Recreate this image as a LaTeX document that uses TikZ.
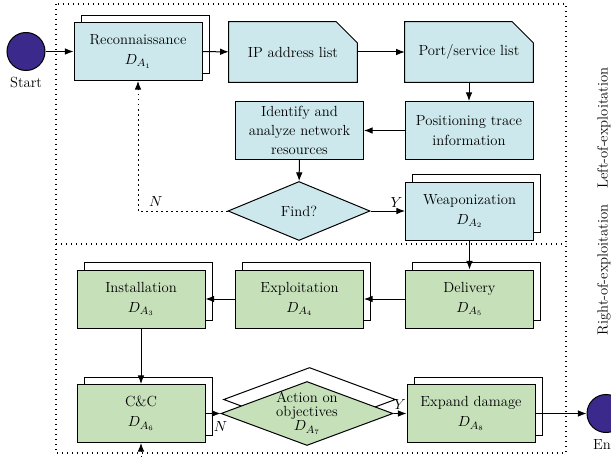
\documentclass[tikz,border=0pt]{standalone}
\usepackage{amsmath}
\usepackage{tikz}
\usetikzlibrary{arrows.meta,positioning,shapes.geometric,shadows,backgrounds}

\definecolor{reconblue}{HTML}{CCE8EC}
\definecolor{attackgreen}{HTML}{C6E0BA}
\definecolor{termpurple}{HTML}{3B2A8C}

\begin{document}
\begin{tikzpicture}[
    x=0.75pt, y=-0.75pt,
    font=\fontsize{11}{15}\selectfont,
    phase/.style={draw,align=center,line width=0.75pt,
        minimum width=96pt,minimum height=43.5pt,inner sep=2pt},
    leftbox/.style={phase,fill=reconblue},
    rightbox/.style={phase,fill=attackgreen},
    stacked/.style={copy shadow={shadow xshift=5.5pt,shadow yshift=5.6pt,
        fill=white,draw=black,line width=0.75pt}},
    listbox/.style={align=center,minimum width=96pt,minimum height=45pt},
    decision/.style={diamond,draw,line width=0.75pt,inner sep=0pt},
    terminal/.style={circle,draw,fill=termpurple,line width=0.75pt,
        minimum size=28.5pt,inner sep=0pt},
    frame/.style={line width=0.9pt,dash pattern=on 0.9pt off 2.85pt},
    arrow/.style={-{Latex[length=6.5pt,width=5pt]},line width=0.75pt},
    loop/.style={arrow,dash pattern=on 0.9pt off 2.85pt}
]
\useasboundingbox (0,0) rectangle (611,460);
% phase frames
\draw[frame] (56,4) rectangle (566,453);
\draw[frame] (56,244) -- (566,244);
\node[rotate=90] (leftlbl) at (604,128) {Left-of-exploitation};
\node[rotate=90] (rightlbl) at (604,270) {Right-of-exploitation};
% left-of-exploitation
\node[terminal] (start) at (26,51.5) {};
\node[below=1pt of start] (startlbl) {Start};
\node[leftbox,stacked] (recon) at (138,51.5) {Reconnaissance\\$D_{A_1}$};
\node[listbox] (ip) at (293,52) {IP address list};
\node[listbox] (port) at (469,52) {Port/service list};
\node[leftbox] (trace) at (469,130.5) {Positioning trace\\information};
\node[leftbox,font=\fontsize{11}{14.5}\selectfont] (ident) at (299.5,130.5)
    {Identify and\\analyze network\\resources};
\node[decision,fill=reconblue,minimum width=106.5pt,minimum height=44.25pt]
    (find) at (299,211) {Find?};
\node[leftbox,stacked] (weapon) at (469.5,211) {Weaponization\\$D_{A_2}$};
\begin{scope}[on background layer]
\foreach \n in {ip,port}
    \filldraw[fill=reconblue,line width=0.75pt] (\n.north west)
        -- ([xshift=-15.75pt]\n.north east) -- ([yshift=-15.75pt]\n.north east)
        -- (\n.south east) -- (\n.south west) -- cycle;
\end{scope}
% right-of-exploitation
\node[rightbox,stacked] (deliv) at (469.5,299) {Delivery\\$D_{A_5}$};
\node[rightbox,stacked] (exploit) at (299.5,299) {Exploitation\\$D_{A_4}$};
\node[rightbox,stacked] (install) at (141,299) {Installation\\$D_{A_3}$};
\node[rightbox,stacked] (cc) at (141,413.5) {C\&C\\$D_{A_6}$};
\node[decision,fill=attackgreen,minimum width=129pt,minimum height=48pt,
    copy shadow={shadow xshift=1.9pt,shadow yshift=10.5pt,
        fill=white,draw=black,line width=0.75pt}] (act) at (307,413.5) {};
\node[align=center,inner sep=0pt,font=\fontsize{11}{10.5}\selectfont]
    (acttext) at (act) {Action on\\objectives\\$D_{A_7}$};
\node[rightbox,stacked] (expand) at (471,413.5) {Expand damage\\$D_{A_8}$};
\node[terminal] (end) at (606,413.5) {};
\node[below=1pt of end] (endlbl) {End};
\coordinate (ccin) at (141,462);
% connectors
\draw[arrow] (start) -- (recon);
\draw[arrow] (recon) -- (ip);
\draw[arrow] (ip) -- (port);
\draw[arrow] (port) -- (trace);
\draw[arrow] (trace) -- (ident);
\draw[arrow] (ident) -- (find);
\draw[arrow] (find) -- node[pos=0.75,above=-1pt]{$Y$} (weapon);
\draw[loop] (find.west) -| node[pos=0.4,above]{$N$} (recon.south);
\draw[arrow] (weapon) -- (deliv);
\draw[arrow] (deliv) -- (exploit);
\draw[arrow] (exploit) -- (install);
\draw[arrow] (install) -- (cc);
\draw[arrow] (cc.east) -- (act.west) node[pos=1,below=2pt]{$N$};
\draw[arrow] (act.east) -- node[above=-1pt]{$Y$} (expand);
\draw[arrow] (expand) -- (end);
\draw[loop] (ccin) -- (cc);
\end{tikzpicture}
\end{document}
